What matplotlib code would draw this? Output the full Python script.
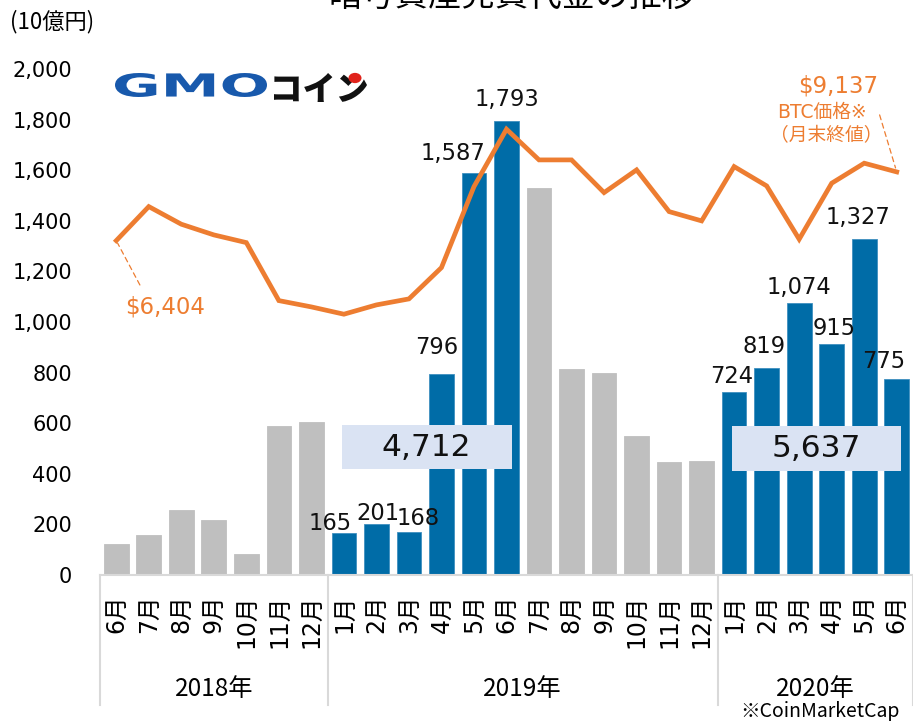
import matplotlib
matplotlib.use('Agg')
import matplotlib.pyplot as plt
from matplotlib.patches import Rectangle, PathPatch, Circle
from matplotlib.textpath import TextPath
from matplotlib.font_manager import FontProperties
from matplotlib.transforms import Affine2D, blended_transform_factory

plt.rcParams['font.family'] = ['DejaVu Sans', 'Noto Sans CJK JP']

# ---------------- data ----------------
months = ['6月', '7月', '8月', '9月', '10月', '11月', '12月',
          '1月', '2月', '3月', '4月', '5月', '6月', '7月', '8月', '9月', '10月', '11月', '12月',
          '1月', '2月', '3月', '4月', '5月', '6月']
years = ['2018年', '2019年', '2020年']
year_counts = [7, 12, 6]
volume = [122, 158, 257, 217, 83, 588, 604,
          165, 201, 168, 796, 1587, 1793, 1528, 814, 798, 549, 446, 450,
          724, 819, 1074, 915, 1327, 775]
highlight = [False] * 7 + [True] * 6 + [False] * 6 + [True] * 6
btc = [6404, 7758, 7057, 6632, 6325, 4018, 3767,
       3477, 3847, 4086, 5331, 8553, 10837, 9615, 9615, 8314, 9218, 7559, 7189,
       9349, 8581, 6461, 8688, 9484, 9137]
h1_totals = [4712, 5637]
yticks = [0, 200, 400, 600, 800, 1000, 1200, 1400, 1600, 1800, 2000]

# ---------------- style ----------------
W, H = 913, 721
BLUE = '#006CA7'
GRAY = '#BFBFBF'
ORANGE = '#ED7D31'
BOX = '#DAE3F3'
AXLINE = '#D9D9D9'

fig = plt.figure(figsize=(W / 100, H / 100), dpi=100)
fig.patch.set_facecolor('white')

ax_l, ax_b_px, ax_t_px = 100, 575, 69
ax = fig.add_axes([ax_l / W, 1 - ax_b_px / H, (W - ax_l) / W, (ax_b_px - ax_t_px) / H])
x = list(range(len(volume)))
colors = [BLUE if h else GRAY for h in highlight]
ax.bar(x, volume, width=0.76, color=colors, zorder=2,
       edgecolor=['#3F8FC0' if h else GRAY for h in highlight], linewidth=0.6)
ax.set_xlim(-0.5, len(volume) - 0.5)
ax.set_ylim(0, 2000)
ax.set_yticks(yticks)
ax.set_yticklabels([f'{v:,}' for v in yticks], fontsize=15)
ax.tick_params(axis='y', length=0, pad=20)
ax.set_xticks(x)
ax.set_xticklabels(months, rotation=90, va='top', ha='center')
for lbl in ax.get_xticklabels():
    lbl.set_fontsize(17)
ax.tick_params(axis='x', length=0, pad=14)
for s in ['left', 'right', 'top']:
    ax.spines[s].set_visible(False)
ax.spines['bottom'].set_color(AXLINE)
ax.spines['bottom'].set_linewidth(1.5)
ax.set_facecolor('none')

# year group separators & labels
tr = blended_transform_factory(ax.transData, ax.transAxes)
sep_bottom = -(705 - ax_b_px) / (ax_b_px - ax_t_px)
start = -0.5
for yr, n in zip(years, year_counts):
    ax.plot([start, start], [0, sep_bottom], transform=tr, color=AXLINE, lw=1.5, clip_on=False)
    ax.text(start + n / 2, -(689 - ax_b_px) / (ax_b_px - ax_t_px), yr, transform=tr,
            ha='center', va='center', fontsize=17.5, family=['Noto Sans CJK JP'])
    start += n
ax.plot([start, start], [0, sep_bottom], transform=tr, color=AXLINE, lw=1.5, clip_on=False)

# data labels on highlighted bars
label_dx = {7: -14, 8: 2, 9: 9, 10: -5, 11: -21, 12: 0, 19: -2, 20: -3, 21: 0, 22: 2, 23: -6, 24: -13}
label_dy = {7: 10, 8: 11, 9: 14, 10: 26, 11: 20, 12: 22, 19: 15, 20: 21, 21: 16, 22: 15, 23: 22, 24: 17}
for i, (v, h) in enumerate(zip(volume, highlight)):
    if h:
        ax.annotate(f'{v:,}', xy=(i, v), xytext=(label_dx.get(i, 0), label_dy.get(i, 15)),
                    textcoords='offset pixels', ha='center', va='center', fontsize=16.3,
                    color='#111111', zorder=5)

# H1 total boxes
box_specs = [(6.93, 12.16, 419, 592), (18.92, 24.14, 411, 588)]
for tot, (x0, x1, y0, y1) in zip(h1_totals, box_specs):
    ax.add_patch(Rectangle((x0, y0), x1 - x0, y1 - y0, facecolor=BOX, edgecolor='none', zorder=3))
    ax.text((x0 + x1) / 2, (y0 + y1) / 2, f'{tot:,}', ha='center', va='center',
            fontsize=22.5, color='#111111', zorder=4)

# BTC line on hidden secondary axis
ax2 = ax.twinx()
ax2.set_ylim(-6897, 13231)
ax2.plot(x, btc, color=ORANGE, lw=3.4, solid_joinstyle='miter', zorder=6)
ax2.axis('off')

ax2.annotate(f'${btc[0]:,}', xy=(0, btc[0]), xytext=(49, -66), textcoords='offset pixels',
             ha='center', va='center', fontsize=16.5, color=ORANGE,
             arrowprops=dict(arrowstyle='-', linestyle=(0, (4, 3)), color=ORANGE, lw=0.9,
                             relpos=(0.25, 1.0), shrinkA=6, shrinkB=2))
ax2.annotate(f'${btc[-1]:,}', xy=(24, btc[-1]), xytext=(-59, 86), textcoords='offset pixels',
             ha='center', va='center', fontsize=16.5, color=ORANGE)
ax2.annotate('BTC価格※', xy=(24, btc[-1]), xytext=(-75, 59), textcoords='offset pixels',
             ha='center', va='center', fontsize=13.5, color=ORANGE,
             family=['DejaVu Sans', 'Noto Sans CJK JP'])
ax2.annotate('（月末終値）', xy=(24, btc[-1]), xytext=(-70, 36), textcoords='offset pixels',
             ha='center', va='center', fontsize=13.5, color=ORANGE,
             family=['Noto Sans CJK JP'],
             arrowprops=dict(arrowstyle='-', linestyle=(0, (4, 3)), color=ORANGE, lw=0.9,
                             relpos=(0.97, 1.5), shrinkA=0, shrinkB=3))

# titles / notes
fig.text(512 / W, 1 + 4 / H, '暗号資産売買代金の推移', ha='center', va='center', fontsize=24,
         family=['Noto Sans CJK JP'])
fig.text(10 / W, 1 - 22 / H, '(10億円)', ha='left', va='center', fontsize=16,
         family=['Noto Sans CJK JP'])
fig.text(900 / W, 1 - 711 / H, '※CoinMarketCap', ha='right', va='center', fontsize=14,
         family=['Noto Sans CJK JP'])


# logo
def text_in_box(s, x0, y0, x1, y1, color, prop):
    tp = TextPath((0, 0), s, prop=prop, size=100)
    ext = tp.get_extents()
    t = (Affine2D().translate(-ext.x0, -ext.y0)
         .scale((x1 - x0) / ext.width / W, (y1 - y0) / ext.height / H)
         .translate(x0 / W, 1 - y1 / H) + fig.transFigure)
    fig.patches.append(PathPatch(tp, transform=t, facecolor=color, edgecolor='none'))


text_in_box('GMO', 115, 73, 267, 97, '#1859AC', FontProperties(family='DejaVu Sans', weight='bold'))
text_in_box('コイン', 274, 73, 367, 102, '#111111', FontProperties(family='Noto Sans CJK JP', weight='black'))
fig.patches.append(Circle((355 / W, 1 - 78 / H), 6.5 / W, transform=fig.transFigure,
                          facecolor='#E0231B', edgecolor='none'))

fig.savefig('out.png', dpi=100, facecolor='white')
